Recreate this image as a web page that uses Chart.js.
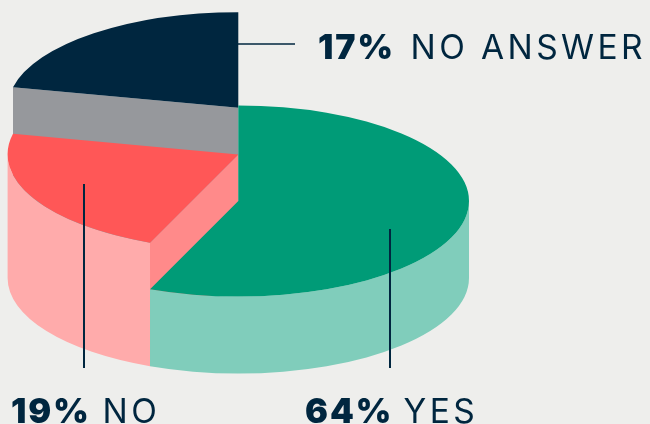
<!DOCTYPE html>
<html>
<head>
<meta charset="utf-8">
<style>
html,body{margin:0;padding:0;background:#eeeeec;overflow:hidden}
canvas{display:block}
</style>
<script src="https://cdn.jsdelivr.net/npm/chart.js@4"></script>
</head>
<body>
<canvas id="c" width="650" height="424"></canvas>
<script>
// Categories and the percentages printed on the chart
const categories = ['YES', 'NO', 'NO ANSWER'];
const percentLabels = [64, 19, 17];
// Share of the circle each slice actually occupies in the picture, read from its
// cut lines (the source drawing's slice sizes differ from its printed percentages)
const drawnShares = [56.25, 22.2, 21.55];
// Column height of each slice above the shared floor, in px
const sliceHeights = [77, 123.6, 170.3];

const topColors = ['#009b77', '#ff5757', '#00263f'];
const wallColors = ['#80cdbb', '#ffabab', '#00263f'];
const faceColors = [null, '#ff8a8a', '#96989c'];
const inkColor = '#00263f';

const centerX = 238.3, floorY = 278, radius = 230.7, squash = 0.414;
const leaders = [
  [[390, 229], [390, 368], 2],
  [[84, 184], [84, 368], 2],
  [[238, 44], [295, 44], 1.5]
];
// x of the percentage, x of the category name, text baseline
const labelPos = [[305, 403.5, 423], [11, 102.5, 423], [318, 410.5, 59]];

const pie3d = {
  id: 'pie3d',
  beforeDatasetsDraw(chart) {
    const ctx = chart.ctx;
    const arcs = chart.getDatasetMeta(0).data;
    const ry = radius * squash;
    for (let i = arcs.length - 1; i >= 0; i--) {
      const el = arcs[i];
      const h = sliceHeights[i];
      const cy = floorY - h;
      // visible outer wall: the part of the arc facing the viewer
      const a0 = Math.max(el.startAngle, 0), a1 = Math.min(el.endAngle, Math.PI);
      if (a1 > a0) {
        ctx.beginPath();
        ctx.ellipse(centerX, cy, radius, ry, 0, a0, a1);
        ctx.ellipse(centerX, cy + h, radius, ry, 0, a1, a0, true);
        ctx.closePath();
        ctx.fillStyle = wallColors[i];
        ctx.fill();
      }
      // cut face along the slice's starting edge
      if (faceColors[i]) {
        const ex = centerX + radius * Math.cos(el.startAngle);
        const ey = cy + ry * Math.sin(el.startAngle);
        ctx.beginPath();
        ctx.moveTo(centerX, cy);
        ctx.lineTo(ex, ey);
        ctx.lineTo(ex, ey + h);
        ctx.lineTo(centerX, cy + h);
        ctx.closePath();
        ctx.fillStyle = faceColors[i];
        ctx.fill();
      }
      // top of the slice: the library's own arc, flattened
      ctx.save();
      ctx.translate(centerX, cy);
      ctx.scale(1, squash);
      ctx.translate(-el.x, -el.y);
      el.draw(ctx);
      ctx.restore();
    }
    return false;
  },
  afterDraw(chart) {
    const ctx = chart.ctx;
    ctx.save();
    ctx.strokeStyle = inkColor;
    leaders.forEach(([a, b, w]) => {
      ctx.lineWidth = w;
      ctx.beginPath();
      ctx.moveTo(a[0], a[1]);
      ctx.lineTo(b[0], b[1]);
      ctx.stroke();
    });
    ctx.fillStyle = inkColor;
    ctx.textBaseline = 'alphabetic';
    ctx.textAlign = 'left';
    categories.forEach((name, i) => {
      const [x, nameX, y] = labelPos[i];
      ctx.font = '900 34px Inter';
      ctx.letterSpacing = '2px';
      ctx.fillText(percentLabels[i] + '%', x, y);
      ctx.font = '400 33.5px Inter';
      ctx.letterSpacing = '3.4px';
      ctx.fillText(name, nameX, y);
    });
    ctx.restore();
  }
};

new Chart(document.getElementById('c'), {
  type: 'pie',
  data: {
    labels: categories,
    datasets: [{
      data: drawnShares,
      backgroundColor: topColors,
      borderWidth: 0
    }]
  },
  options: {
    responsive: false,
    animation: false,
    radius: radius,
    events: [],
    plugins: { legend: { display: false }, tooltip: { enabled: false } }
  },
  plugins: [pie3d, {
    id: 'bg',
    beforeDraw(chart) {
      chart.ctx.save();
      chart.ctx.fillStyle = '#eeeeec';
      chart.ctx.fillRect(0, 0, chart.width, chart.height);
      chart.ctx.restore();
    }
  }]
});
</script>
</body>
</html>
